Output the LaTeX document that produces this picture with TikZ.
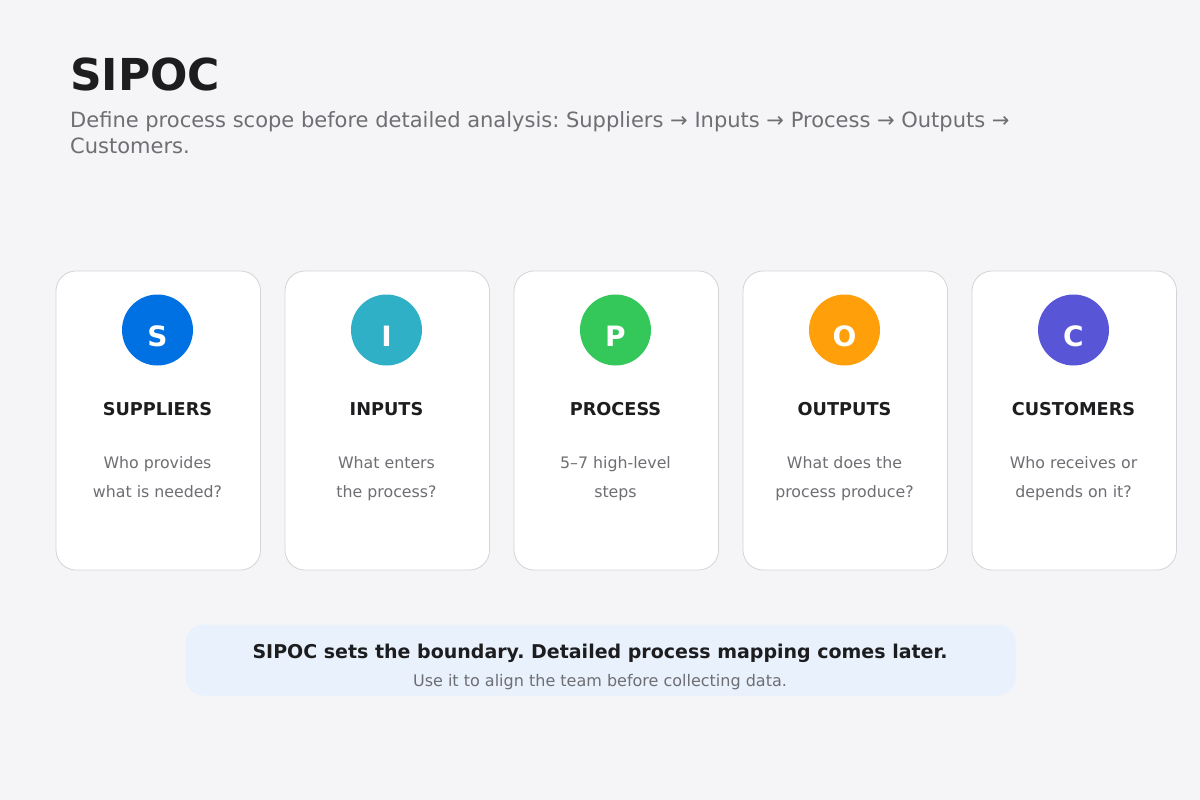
\documentclass[tikz,border=0pt]{standalone}
\usepackage{fontspec}
\setmainfont{DejaVu Sans}
\usetikzlibrary{positioning}
\definecolor{bgcol}{HTML}{F5F5F7}
\definecolor{cardline}{HTML}{D4D4D8}
\definecolor{titlecol}{HTML}{1D1D1F}
\definecolor{greytxt}{HTML}{6E6E73}
\definecolor{notefill}{HTML}{E8F1FC}
\definecolor{colS}{HTML}{0071E3}
\definecolor{colI}{HTML}{30B0C7}
\definecolor{colP}{HTML}{34C759}
\definecolor{colO}{HTML}{FF9F0A}
\definecolor{colC}{HTML}{5856D6}
\tikzset{
  card/.style={draw=cardline, fill=white, line width=0.8pt, rounded corners=20pt,
    minimum width=204.5pt, minimum height=299pt, inner sep=0pt},
  badge/.style={circle, minimum size=71pt, inner sep=0pt},
  txt/.style={anchor=base, inner sep=0pt},
}
\frenchspacing
\begin{document}
\begin{tikzpicture}[x=1pt,y=-1pt]
		\fill[bgcol] (0,0) rectangle (1200,800);
		\useasboundingbox (0,0) rectangle (1200,800);
		% heading
		\node[txt, anchor=base west, text=titlecol, font=\bfseries\fontsize{44}{50}\selectfont] 
		(title) at (70,90) {SIPOC};
		\node[txt, anchor=base west, text=greytxt, font=\fontsize{21}{25}\selectfont] 
		(subA) at (70,128) {Define process scope before detailed analysis: Suppliers → Inputs → Process → Outputs →};
		\node[txt, anchor=base west, text=greytxt, font=\fontsize{21}{25}\selectfont] 
		(subB) at (70,153) {Customers.};
		% the five cards
		\foreach \Xc/\Col/\Let/\Head/\LineA/\LineB in 
		{0/colS/S/SUPPLIERS/Who provides/what is needed?,
		 1/colI/I/INPUTS/What enters/the process?,
		 2/colP/P/PROCESS/5–7 high-level/steps,
		 3/colO/O/OUTPUTS/What does the/process produce?,
		 4/colC/C/CUSTOMERS/Who receives or/depends on it?}
		{
			\node[card] (card\Let) at (158.25+229*\Xc,420.5) {};
			\node[badge, fill=\Col] (badge\Let) at (157.5+229*\Xc,330) {};
			\node[txt, text=white, font=\bfseries\fontsize{28}{32}\selectfont] 
			(letter\Let) at (157.5+229*\Xc,346) {\Let};
			\node[txt, text=titlecol, font=\bfseries\fontsize{17.7}{20}\selectfont] 
			(head\Let) at (157.5+229*\Xc,415) {\Head};
			\node[txt, text=greytxt, font=\fontsize{15.8}{18}\selectfont] 
			(descA\Let) at (157.5+229*\Xc,468) {\LineA};
			\node[txt, text=greytxt, font=\fontsize{15.8}{18}\selectfont] 
			(descB\Let) at (157.5+229*\Xc,497) {\LineB};
		}
		% note at the bottom
		\node[fill=notefill, rounded corners=18pt, minimum width=830pt, minimum height=71pt, inner sep=0pt] 
		(note) at (600.5,660) {};
		\node[txt, text=titlecol, font=\bfseries\fontsize{19}{22}\selectfont] 
		(noteA) at (600,658) {SIPOC sets the boundary. Detailed process mapping comes later.};
		\node[txt, text=greytxt, font=\fontsize{16}{18}\selectfont] 
		(noteB) at (600,686) {Use it to align the team before collecting data.};
\end{tikzpicture}
\end{document}
